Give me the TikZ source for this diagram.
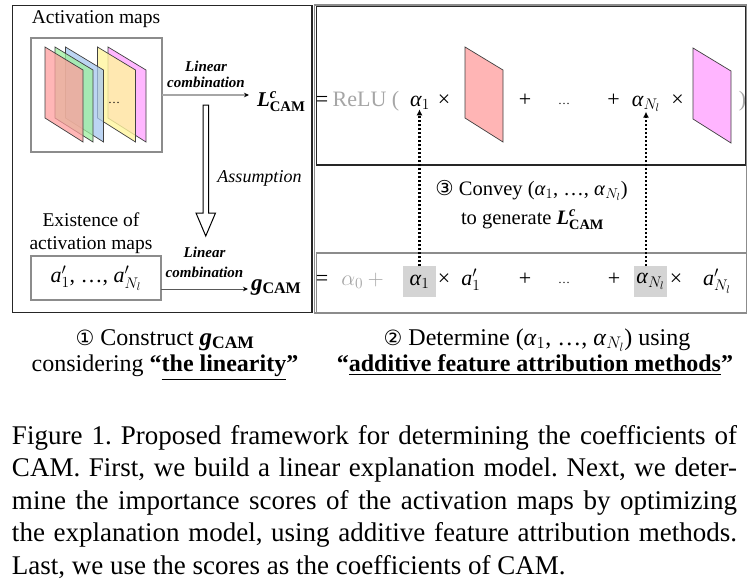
\RequirePackage{fix-cm}
\documentclass[tikz,border=0pt]{standalone}
\usepackage{amsmath}
\usepackage{bm}
\usepackage{fontspec}
\setmainfont{Liberation Serif}
\newfontfamily\circfont{DejaVu Sans}
\usetikzlibrary{calc,arrows.meta}
\definecolor{fadegray}{HTML}{A6A6A6}
\definecolor{framegray}{HTML}{8C8C8C}
\definecolor{hlgray}{HTML}{D4D4D4}
\definecolor{shR}{HTML}{FF9E9E}
\definecolor{shG}{HTML}{9EF09E}
\definecolor{shB}{HTML}{A6C8F0}
\definecolor{shY}{HTML}{FFF59E}
\definecolor{shM}{HTML}{FFA6FF}
\definecolor{shRtwo}{HTML}{FFB5B5}
\definecolor{shMtwo}{HTML}{FFB5FF}
\newcommand\mysheet[4][]{\draw[sheetedge,fill=#4,#1] (#2,#3) -- ({#2+38},{#3+23}) -- ({#2+38},{#3+95}) -- (#2,{#3+71}) -- cycle;}
\newcommand\tal{\textit{α}}
\newcommand\tta{\textit{a}}
\newcommand\lcamsym{\textbf{\textit{L}}$^{\textbf{\textit{c}}}_{\textbf{CAM}}$}
\newcommand\gcamsym{\textbf{\textit{g}}$_{\textbf{CAM}}$}
\newcommand\alist{(\tal$_1$, …, \tal$_{N_l}$)}
\frenchspacing
\begin{document}
\begin{tikzpicture}[x=1pt,y=-1pt,
  every node/.style={inner sep=0pt,outer sep=0pt},
  txt/.style={font=\fontsize{19.5}{23}\selectfont},
  row/.style={font=\fontsize{22}{22}\selectfont,anchor=base},
  dotsty/.style={font=\fontsize{12}{12}\selectfont,anchor=base},
  lc/.style={align=center},
  sheetedge/.style={draw=black!75,line width=0.7pt},
  boxframe/.style={draw=black!85,line width=1.3pt},
  grayframe/.style={draw=framegray,line width=1.1pt},
  hl/.style={fill=hlgray,minimum width=33pt,minimum height=31pt,font=\fontsize{22}{22}\selectfont},
  arrA/.style={draw=black!35,line width=1.2pt,-{Stealth[length=5pt,width=4.5pt,black]}},
  arrB/.style={draw=black!65,line width=1pt,-{Stealth[length=5pt,width=4.5pt,black]}},
  dotarrow/.style={line width=2.2pt,dash pattern=on 2.2pt off 1.8pt,-{Latex[length=6pt,width=6pt]}},
  lbl/.style={font=\fontsize{24}{24}\selectfont,anchor=base},
  capline/.style={font=\fontsize{27}{32.5}\selectfont,anchor=base west}]
\useasboundingbox (0,0) rectangle (748,584);
\fill[white] (0,0) rectangle (748,584);

% ---------- left panel ----------
\draw[boxframe] (12.5,5.5) rectangle (312,312.5);
\node[txt] (amtitle) at (96,19) {Activation maps};
\node[grayframe,minimum width=131pt,minimum height=114pt] (amaps) at (96.5,95) {};
\mysheet[fill opacity=0.8]{108}{47}{shM}
\mysheet[fill opacity=0.8]{97.5}{47}{shY}
\mysheet[fill opacity=0.75]{65.5}{47}{shB}
\mysheet[fill opacity=0.75]{55}{47}{shG}
\mysheet[fill opacity=0.75]{45}{47}{shR}
\node[dotsty] (dots0) at (114,103) {…};

\node[lc,font=\fontsize{15}{16}\bfseries\itshape\selectfont] (lc1) at (206,74.5) {Linear\\combination};
\node[anchor=base west,font=\fontsize{21}{21}\selectfont] (Lcam) at (257,106) {\lcamsym};
\draw[arrA,shorten >=8pt] (amaps.east) -- (amaps.east -| Lcam.west);

\draw[line width=1pt,fill=white] (203,105) -- (208.5,105) -- (208.5,213) -- (215.5,213) -- (205.75,236) -- (196,213) -- (203,213) -- cycle;
\node[font=\fontsize{18}{18}\itshape\selectfont] (assump) at (259.5,178) {Assumption};

\node[txt,align=center] (exist) at (91,233.5) {Existence of\\activation maps};
\node[grayframe,minimum width=130pt,minimum height=44pt,font=\fontsize{22}{22}\selectfont] (abox) at (96,278) {\tta$'_1$, …, \tta$'_{N_l}$};
\node[lc,font=\fontsize{15}{20}\bfseries\itshape\selectfont] (lc2) at (204.5,262) {Linear\\combination};
\node[anchor=base west,font=\fontsize{23}{23}\selectfont] (gcam) at (251,290) {\gcamsym};
\coordinate (a2start) at ($(abox.south east)!0.25!(abox.north east)$);
\draw[arrB,shorten >=3pt] (a2start) -- (a2start -| gcam.west);

% ---------- right panel ----------
\draw[grayframe] (314.5,5) rectangle (746.5,313);
\draw[boxframe,line width=1.2pt] (316.5,6.5) rectangle (745.5,165);
\draw[grayframe] (316.5,253) rectangle (746.5,312.5);

% top row
\node[row] (eq1) at (322,106) {=};
\node[row,text=fadegray] (relu) at (366,106) {ReLU (};
\node[row] (a1top) at (420,106) {\tal$_1$};
\node[row] (x1) at (444,106) {×};
\mysheet{465}{47}{shRtwo}
\node[row] (p1) at (525,106) {+};
\node[dotsty] (d1) at (564,104) {…};
\node[row] (p2) at (613.5,106) {+};
\node[row] (aNtop) at (646,106) {\tal$_{N_l}$};
\node[row] (x2) at (677.5,106) {×};
\mysheet{693}{48}{shMtwo}
\node[row,text=fadegray] (rp) at (742.5,106) {)};

% middle text
\node[font=\fontsize{20.5}{20.5}\selectfont,anchor=base] (conv1) at (531.5,195) {{\circfont ③} Convey \alist};
\node[font=\fontsize{20.5}{20.5}\selectfont,anchor=base] (conv2) at (532.5,224) {to generate {\fontsize{20.5}{20.5}\selectfont\lcamsym}};

% bottom row
\node[row] (eq2) at (322,285) {=};
\node[row,text=fadegray] (a0) at (365,285) {$\alpha_0 +{}$};
\node[hl] (a1hl) at (419.5,281.5) {\tal$_1$};
\node[row] (x3) at (444,285) {×};
\node[row] (ap1) at (471,285) {\tta$'_1$};
\node[row] (p3) at (525,285) {+};
\node[dotsty] (d2) at (564,283) {…};
\node[row] (p4) at (614,285) {+};
\node[hl] (aNhl) at (650.5,281.5) {\tal$_{N_l}$};
\node[row] (x4) at (676,285) {×};
\node[row] (apN) at (717,285) {\tta$'_{N_l}$};

\draw[dotarrow] (a1hl.north) -- (a1hl.north |- a1top.south);
\draw[dotarrow] (aNtop.south |- aNhl.north) -- (aNtop.south);

% labels under panels
\node[lbl] (c1a) at (165,345) {{\circfont\fontsize{21}{21}\selectfont ①} Construct {\fontsize{25}{25}\selectfont\gcamsym}};
\node[lbl] (c1b) at (165,371) {considering \textbf{“\underline{the linearity}”}};
\node[lbl] (c2a) at (537,345) {{\circfont\fontsize{21}{21}\selectfont ②} Determine \alist{} using};
\node[lbl] (c2b) at (535,371) {\textbf{“\underline{additive feature attribution methods}”}};

% caption
\node[capline] (cap1) at (12,444) {\makebox[725pt][s]{Figure 1. Proposed framework for determining the coefficients of}};
\node[capline] (cap2) at (12,476.5) {\makebox[725pt][s]{CAM. First, we build a linear explanation model. Next, we deter-}};
\node[capline] (cap3) at (12,509) {\makebox[725pt][s]{mine the importance scores of the activation maps by optimizing}};
\node[capline] (cap4) at (12,541.5) {\makebox[725pt][s]{the explanation model, using additive feature attribution methods.}};
\node[capline] (cap5) at (12,574) {Last, we use the scores as the coefficients of CAM.};
\end{tikzpicture}
\end{document}
